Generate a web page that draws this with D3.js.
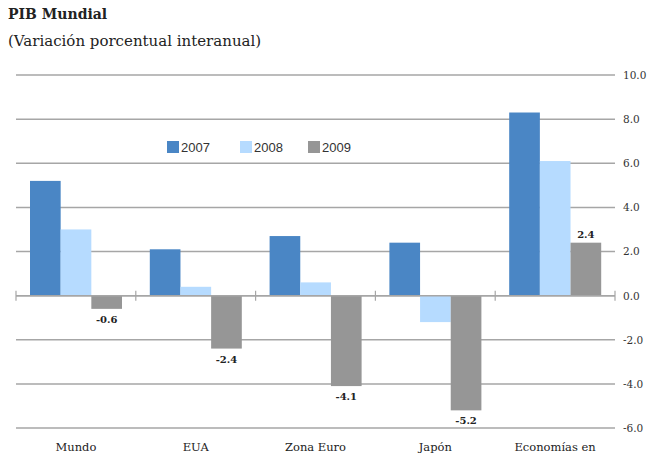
<!DOCTYPE html>
<html><head><meta charset="utf-8">
<script src="https://cdn.jsdelivr.net/npm/d3@7"></script>
<style>body{margin:0;background:#fff}svg{display:block}</style>
</head><body><svg id="c" width="652" height="459"></svg>
<script>
const categories = ["Mundo","EUA","Zona Euro","Japón","Economías en"];
const seriesNames = ["2007","2008","2009"];
const v2007 = [5.2, 2.1, 2.7, 2.4, 8.3];
const v2008 = [3.0, 0.4, 0.6, -1.2, 6.1];
const v2009 = [-0.6, -2.4, -4.1, -5.2, 2.4];
const yTicks = [10,8,6,4,2,0,-2,-4,-6];
const colors = ["#4a86c5","#b6dbff","#969696"];

const fmt = d => d.toFixed(1);
const svg = d3.select("#c");
const L = 16, R = 615, T = 75, B = 428;
const x = d3.scaleBand().domain(categories).range([L,R]);
const xs = d3.scaleBand().domain(seriesNames).range([14, 106]);
const y = d3.scaleLinear().domain([-6,10]).range([B,T]);
const series = [v2007, v2008, v2009];
const serif = "DejaVu Serif, serif";

svg.append("text").attr("x",8).attr("y",19).attr("font-family",serif)
  .attr("font-weight","bold").attr("font-size",14).attr("fill","#222").text("PIB Mundial");
svg.append("text").attr("x",8).attr("y",46).attr("font-family",serif)
  .attr("font-size",15).attr("fill","#222").text("(Variación porcentual interanual)");

// gridlines
svg.append("g").selectAll("line").data(yTicks).join("line")
  .attr("x1",L).attr("x2",R).attr("y1",d=>y(d)).attr("y2",d=>y(d))
  .attr("stroke","#a6a6a6").attr("stroke-width",1.5);

// right axis
const ax = svg.append("g").attr("transform",`translate(${R},0)`)
  .call(d3.axisRight(y).tickValues(yTicks).tickSize(0).tickPadding(8).tickFormat(fmt));
ax.select(".domain").remove();
ax.selectAll("text").attr("font-family",serif).attr("font-size",10.5).attr("fill","#333");

// bars
series.forEach((vals,si)=>{
  svg.append("g").selectAll("rect").data(vals).join("rect")
    .attr("x",(d,i)=>x(categories[i])+xs(seriesNames[si]))
    .attr("width",xs.bandwidth())
    .attr("y",d=>y(Math.max(0,d)))
    .attr("height",d=>Math.abs(y(d)-y(0)))
    .attr("fill",colors[si]);
});

// zero axis with category ticks
svg.append("line").attr("x1",L).attr("x2",R).attr("y1",y(0)).attr("y2",y(0))
  .attr("stroke","#a6a6a6").attr("stroke-width",1.5);
const bounds = categories.map(c=>x(c)).concat([R]);
svg.append("g").selectAll("line").data(bounds).join("line")
  .attr("x1",d=>d).attr("x2",d=>d).attr("y1",y(0)-5).attr("y2",y(0)+5)
  .attr("stroke","#a6a6a6").attr("stroke-width",1.2);

// data labels for 2009
svg.append("g").selectAll("text").data(v2009).join("text")
  .attr("x",(d,i)=>x(categories[i])+xs("2009")+xs.bandwidth()/2)
  .attr("y",d=>d<0 ? y(d)+14 : y(d)-5)
  .attr("text-anchor","middle").attr("font-family",serif)
  .attr("font-weight","bold").attr("font-size",10).attr("fill","#222")
  .text(fmt);

// category labels
svg.append("g").selectAll("text").data(categories).join("text")
  .attr("x",d=>x(d)+x.bandwidth()/2).attr("y",451)
  .attr("text-anchor","middle").attr("font-family",serif)
  .attr("font-size",11.5).attr("fill","#222").text(d=>d);

// legend
const lx = [167, 240, 308];
const lg = svg.append("g").selectAll("g").data(seriesNames).join("g")
  .attr("transform",(d,i)=>`translate(${lx[i]},141)`);
lg.append("rect").attr("width",12).attr("height",12).attr("fill",(d,i)=>colors[i]);
lg.append("text").attr("x",14).attr("y",11).attr("font-family","Liberation Sans, Arial, sans-serif")
  .attr("font-size",13).attr("fill","#333").text(d=>d);
</script></body></html>
